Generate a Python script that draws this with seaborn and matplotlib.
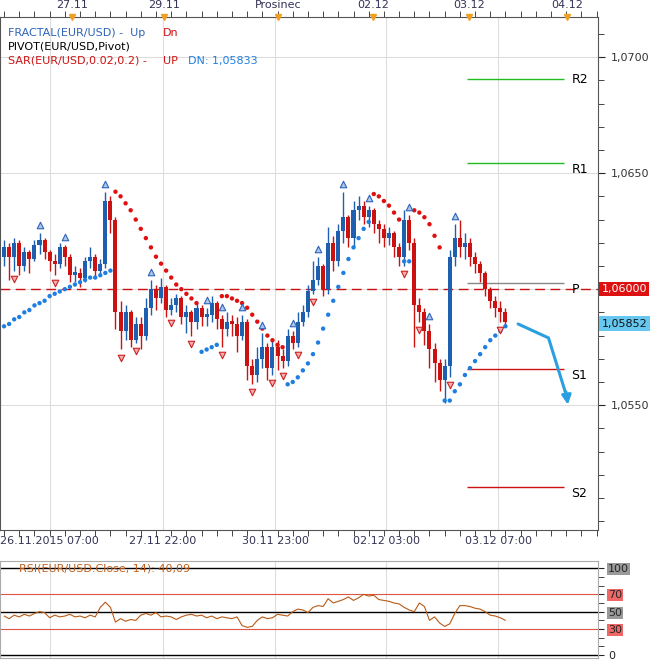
import numpy as np
import pandas as pd
import matplotlib
matplotlib.use("Agg")
import matplotlib.pyplot as plt
import seaborn as sns

# ---- data ----
closes = [1.0618, 1.0614, 1.0620, 1.0610, 1.0616, 1.0613, 1.0619, 1.0621, 1.0616, 1.0612,
          1.0611, 1.0618, 1.0614, 1.0606, 1.0607, 1.0605, 1.0612, 1.0614, 1.0608, 1.0611,
          1.0638, 1.0630, 1.0590, 1.0582, 1.0590, 1.0578, 1.0585, 1.0580, 1.0592, 1.0600,
          1.0596, 1.0601, 1.0591, 1.0593, 1.0596, 1.0588, 1.0590, 1.0586, 1.0592, 1.0588,
          1.0589, 1.0594, 1.0587, 1.0583, 1.0586, 1.0585, 1.0580, 1.0586, 1.0567, 1.0563,
          1.0570, 1.0575, 1.0566, 1.0575, 1.0571, 1.0569, 1.0580, 1.0577, 1.0586, 1.0590,
          1.0599, 1.0604, 1.0610, 1.0600, 1.0620, 1.0612, 1.0625, 1.0631, 1.0622, 1.0634,
          1.0636, 1.0631, 1.0634, 1.0628, 1.0626, 1.0622, 1.0624, 1.0618, 1.0614, 1.0630,
          1.0620, 1.0593, 1.0590, 1.0582, 1.0574, 1.0568, 1.0561, 1.0567, 1.0614, 1.0622,
          1.0618, 1.0620, 1.0614, 1.0611, 1.0607, 1.0600, 1.0595, 1.0592, 1.0590, 1.0586]
first_open = 1.0614
highs = [1.0621, 1.0620, 1.0622, 1.0621, 1.0618, 1.0617, 1.0621, 1.0624, 1.0622, 1.0617,
         1.0615, 1.0620, 1.0619, 1.0615, 1.0610, 1.0609, 1.0614, 1.0618, 1.0615, 1.0613,
         1.0642, 1.0640, 1.0631, 1.0595, 1.0593, 1.0591, 1.0588, 1.0588, 1.0596, 1.0604,
         1.0602, 1.0605, 1.0602, 1.0596, 1.0598, 1.0597, 1.0593, 1.0591, 1.0594, 1.0593,
         1.0592, 1.0597, 1.0595, 1.0589, 1.0590, 1.0589, 1.0588, 1.0589, 1.0587, 1.0570,
         1.0575, 1.0581, 1.0577, 1.0578, 1.0578, 1.0574, 1.0583, 1.0582, 1.0590, 1.0593,
         1.0602, 1.0612, 1.0614, 1.0611, 1.0627, 1.0623, 1.0628, 1.0642, 1.0632, 1.0638,
         1.0640, 1.0638, 1.0636, 1.0635, 1.0630, 1.0628, 1.0627, 1.0625, 1.0620, 1.0634,
         1.0632, 1.0622, 1.0596, 1.0592, 1.0585, 1.0577, 1.0570, 1.0570, 1.0617, 1.0628,
         1.0630, 1.0624, 1.0622, 1.0616, 1.0612, 1.0608, 1.0601, 1.0597, 1.0595, 1.0592]
lows = [1.0610, 1.0604, 1.0608, 1.0606, 1.0608, 1.0607, 1.0612, 1.0615, 1.0613, 1.0608,
        1.0606, 1.0609, 1.0610, 1.0603, 1.0603, 1.0601, 1.0603, 1.0609, 1.0605, 1.0607,
        1.0609, 1.0624, 1.0583, 1.0574, 1.0578, 1.0575, 1.0577, 1.0574, 1.0578, 1.0589,
        1.0591, 1.0594, 1.0588, 1.0589, 1.0590, 1.0585, 1.0581, 1.0580, 1.0583, 1.0584,
        1.0584, 1.0586, 1.0583, 1.0575, 1.0580, 1.0580, 1.0573, 1.0578, 1.0561, 1.0559,
        1.0560, 1.0566, 1.0561, 1.0563, 1.0565, 1.0566, 1.0567, 1.0574, 1.0575, 1.0584,
        1.0588, 1.0598, 1.0602, 1.0597, 1.0598, 1.0608, 1.0610, 1.0620, 1.0618, 1.0618,
        1.0630, 1.0628, 1.0627, 1.0624, 1.0620, 1.0618, 1.0619, 1.0614, 1.0610, 1.0610,
        1.0617, 1.0575, 1.0586, 1.0576, 1.0566, 1.0560, 1.0556, 1.0551, 1.0562, 1.0610,
        1.0614, 1.0613, 1.0610, 1.0607, 1.0603, 1.0597, 1.0592, 1.0588, 1.0586, 1.0584]

sar_values = [1.0584, 1.0585, 1.0587, 1.0588, 1.0590, 1.0591, 1.0593, 1.0594, 1.0595, 1.0597,
              1.0598, 1.0599, 1.0600, 1.0601, 1.0602, 1.0603, 1.0604, 1.0605, 1.0605, 1.0606,
              1.0607, 1.0608,
              1.0642, 1.0640, 1.0637, 1.0634, 1.0630, 1.0626, 1.0622, 1.0618, 1.0614, 1.0611,
              1.0608, 1.0605, 1.0602, 1.0600, 1.0598, 1.0596, 1.0594,
              1.0573, 1.0574, 1.0575, 1.0576,
              1.0597, 1.0597, 1.0596, 1.0595, 1.0594, 1.0592, 1.0589, 1.0586, 1.0583, 1.0580,
              1.0578, 1.0576, 1.0575,
              1.0559, 1.0560, 1.0562, 1.0565, 1.0568, 1.0572, 1.0577, 1.0583, 1.0589, 1.0595,
              1.0601, 1.0607, 1.0613, 1.0618, 1.0622, 1.0626, 1.0629,
              1.0641, 1.0640, 1.0638, 1.0636, 1.0633, 1.0630,
              1.0612, 1.0612,
              1.0634, 1.0633, 1.0631, 1.0628, 1.0623, 1.0618,
              1.0552, 1.0552, 1.0556, 1.0559, 1.0563, 1.0566, 1.0569, 1.0572, 1.0575, 1.0578,
              1.0580, 1.0582, 1.0584]
sar_trend = "U" * 22 + "D" * 17 + "U" * 4 + "D" * 13 + "U" * 17 + "D" * 6 + "U" * 2 + "D" * 6 + "U" * 13

fractal_up = [7, 12, 20, 29, 40, 43, 47, 51, 57, 62, 67, 72, 80, 84, 89]
fractal_dn = [2, 10, 23, 26, 33, 37, 43, 49, 53, 55, 58, 61, 79, 82, 88, 98]

pivot_names = ["R2", "R1", "P", "S1", "S2"]
pivot_levels = [1.06905, 1.06543, 1.06026, 1.05655, 1.05147]
pivot_colors = ["#22bb22", "#22bb22", "#888888", "#cc1111", "#cc1111"]
round_level = 1.0600
last_price = 1.05852

rsi = [45, 42, 46, 44, 47, 45, 48, 50, 49, 43, 46, 44, 45, 47, 44, 45, 43, 46, 44,
       55, 61, 55, 38, 42, 39, 41, 40, 46, 48, 46, 49, 44, 45, 44, 41, 44, 46, 47, 45,
       46, 43, 45, 42, 44, 43, 42, 44, 34, 32, 33, 40, 44, 42, 43, 47, 46, 45, 50, 53,
       52, 49, 55, 57, 56, 65, 60, 62, 64, 67, 63, 66, 70, 68, 69, 64, 63, 62, 60, 59,
       55, 52, 50, 60, 56, 40, 44, 37, 33, 36, 48, 57, 57, 56, 54, 53, 50, 46, 45, 43, 40]

top_tick_pos = [13.5, 31.6, 54.1, 72.9, 91.8, 111.2]
top_tick_labels = ["27.11", "29.11", "Prosinec", "02.12", "03.12", "04.12"]
bottom_tick_pos = [9.0, 31.4, 53.5, 75.5, 97.6]
bottom_tick_labels = ["26.11.2015 07:00", "27.11 22:00", "30.11 23:00", "02.12 03:00", "03.12 07:00"]
price_ticks = [1.0550, 1.0600, 1.0650, 1.0700]
rsi_levels = [100, 70, 50, 30, 0]

# ---- frame ----
n = len(closes)
opens = [first_open] + closes[:-1]
df = pd.DataFrame({"i": np.arange(n), "open": opens, "close": closes, "high": highs, "low": lows})
df["high"] = df[["high", "open", "close"]].max(axis=1)
df["low"] = df[["low", "open", "close"]].min(axis=1)
df["up"] = df["close"] >= df["open"]

sar = pd.DataFrame({"i": np.arange(n), "sar": sar_values, "trend": list(sar_trend)})

sns.set_style("white")
plt.rcParams["font.family"] = "DejaVu Sans"
fig = plt.figure(figsize=(6.58, 6.62), dpi=100)
ax = fig.add_axes([0.0, 0.199, 0.909, 0.775])
ax2 = fig.add_axes([0.0, 0.006, 0.909, 0.146], sharex=ax)

XMIN, XMAX = -0.8, 117.3
ax.set_xlim(XMIN, XMAX)
ax.set_ylim(1.04961, 1.07172)

for y in price_ticks:
    ax.axhline(y, color="#dddddd", lw=0.8, zorder=0)
for x in bottom_tick_pos:
    ax.axvline(x, color="#dddddd", lw=0.8, zorder=0)
    ax2.axvline(x, color="#dddddd", lw=0.8, zorder=0)

RED, BLUE = "#cc1111", "#1f5fb0"
cols = np.where(df["up"], BLUE, RED)
ax.vlines(df["i"], df["low"], df["high"], colors=cols, lw=1.0, zorder=2)
body = (df["close"] - df["open"]).abs().clip(lower=0.00012)
ax.bar(df["i"], body, bottom=df[["open", "close"]].min(axis=1), width=0.8,
       color=cols, linewidth=0, zorder=3)

# SAR
sns.scatterplot(data=sar, x="i", y="sar", hue="trend", palette={"U": "#1e7fe0", "D": "#e01010"},
                s=10, linewidth=0, legend=False, ax=ax, zorder=4)

# fractals
ax.scatter(fractal_up, df["high"].iloc[fractal_up] + 0.00035, marker="^", s=22,
           facecolor="#aac8ee", edgecolor="#2e63b8", lw=0.8, zorder=5)
ax.scatter(fractal_dn, df["low"].iloc[fractal_dn] - 0.00035, marker="v", s=22,
           facecolor="#f3b0b0", edgecolor="#d02020", lw=0.8, zorder=5)

# pivots
for name, lvl, c in zip(pivot_names, pivot_levels, pivot_colors):
    ax.hlines(lvl, 91.5, 110.5, color=c, lw=1.0, zorder=1)
    ax.text(112.0, lvl, name, va="top" if name != "R2" else "center", ha="left",
            fontsize=9, color="black")
ax.axhline(round_level, color="#cc1111", lw=1.0, ls=(0, (7, 4)), zorder=1)

# hand-drawn arrow
ax.plot([101.5, 107.5, 111.2], [1.0585, 1.0579, 1.0553], color="#2aa0e0", lw=2.2, zorder=6)
ax.annotate("", xy=(111.4, 1.0549), xytext=(110.9, 1.0557),
            arrowprops=dict(arrowstyle="-|>", color="#2aa0e0", lw=2, mutation_scale=14))

# axes styling
ax.yaxis.tick_right()
ax.set_yticks(price_ticks)
# 1,0600 is covered by the red price box
ax.set_yticklabels(["" if v == round_level else f"{v:.4f}".replace(".", ",") for v in price_ticks],
                   fontsize=8, color="#333333")
ax.set_yticks(np.arange(1.050, 1.0716, 0.001), minor=True)
ax.tick_params(axis="y", which="both", direction="out", length=5, pad=4)
ax.tick_params(axis="y", which="minor", length=4)
ax.set_xticks(top_tick_pos)
ax.set_xticklabels(top_tick_labels, fontsize=8, color="#333355")
ax.xaxis.tick_top()
ax.tick_params(axis="x", length=0, pad=5)
ax.set_xticks(np.arange(0, 118, 3.0), minor=True)
ax.tick_params(axis="x", which="minor", length=4, top=True, bottom=True, direction="out")
ax.set_xlabel("")
ax.set_ylabel("")
for s in ax.spines.values():
    s.set_color("#555555")
    s.set_linewidth(0.8)

# top triangles
for x in top_tick_pos:
    ax.plot(x, 1.07172, marker="v", color="#f0a020", ms=5, clip_on=False, zorder=7)

# bottom date labels
for x, lab in zip(bottom_tick_pos, bottom_tick_labels):
    ax.text(x, 1.04961 - 0.00045, lab, ha="center", va="center", fontsize=8, color="#333355")

# price boxes
ax.text(118.0, round_level, "1,06000", fontsize=8, color="white", va="center", ha="left",
        bbox=dict(boxstyle="square,pad=0.2", fc="#dd1111", ec="none"), clip_on=False)
ax.text(118.0, last_price, "1,05852", fontsize=8, color="#111111", va="center", ha="left",
        bbox=dict(boxstyle="square,pad=0.2", fc="#66c8f0", ec="none"), clip_on=False)

# legend text
fig.text(0.012, 0.946, "FRACTAL(EUR/USD) -  Up", fontsize=8, color="#2e63b8")
fig.text(0.247, 0.946, "Dn", fontsize=8, color="#cc1111")
fig.text(0.012, 0.925, "PIVOT(EUR/USD,Pivot)", fontsize=8, color="black")
fig.text(0.012, 0.904, "SAR(EUR/USD,0.02,0.2) -", fontsize=8, color="#cc1111")
fig.text(0.247, 0.904, "UP", fontsize=8, color="#cc1111")
fig.text(0.285, 0.904, "DN: 1,05833", fontsize=8, color="#1e7fe0")

# ---- RSI panel ----
rsi_df = pd.DataFrame({"i": np.arange(len(rsi)), "rsi": rsi})
ax2.set_ylim(-3.4, 108)
for lvl in rsi_levels:
    c = "#dd5544" if lvl in (70, 30) else "black"
    ax2.axhline(lvl, color=c, lw=1.0 if c == "black" else 0.8, zorder=1)
sns.lineplot(data=rsi_df, x="i", y="rsi", color="#b85a14", lw=0.8, ax=ax2, zorder=3)
ax2.text(3, 100, "RSI(EUR/USD.Close, 14): 40,09", fontsize=8, color="#c0601c", va="center")
ax2.yaxis.tick_right()
ax2.set_yticks(rsi_levels)
ax2.set_yticklabels([str(v) for v in rsi_levels], fontsize=8)
ax2.set_yticks(np.arange(0, 101, 10), minor=True)
ax2.tick_params(axis="y", which="both", direction="out", length=4, pad=3)
box_col = {100: "#999999", 70: "#ee6666", 50: "#999999", 30: "#ee6666"}
for lab in ax2.get_yticklabels():
    v = int(lab.get_text())
    if v in box_col:
        lab.set_bbox(dict(boxstyle="square,pad=0.1", fc=box_col[v], ec="none"))
ax2.tick_params(axis="x", which="both", length=0, labelbottom=False, labeltop=False)
ax2.set_xlabel("")
ax2.set_ylabel("")
for s in ax2.spines.values():
    s.set_color("#aaaaaa")
    s.set_linewidth(0.8)

fig.savefig("out.png", dpi=100)
